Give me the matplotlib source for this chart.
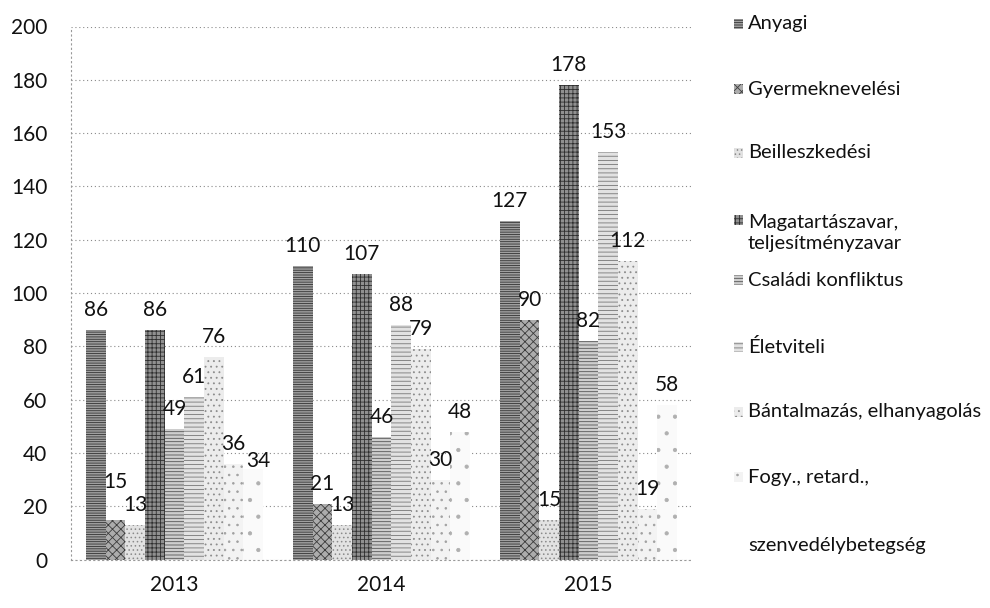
import matplotlib
matplotlib.use("Agg")
import matplotlib.pyplot as plt
from matplotlib.patches import Rectangle
import numpy as np

years = ["2013", "2014", "2015"]
series = ["Anyagi", "Gyermeknevelési", "Beilleszkedési",
          "Magatartászavar,\nteljesítményzavar", "Családi konfliktus",
          "Életviteli", "Bántalmazás, elhanyagolás", "Fogy., retard.,",
          "szenvedélybetegség"]
anyagi = [86, 110, 127]
gyermek = [15, 21, 90]
beill = [13, 13, 15]
magatartas = [86, 107, 178]
csaladi = [49, 46, 82]
eletviteli = [61, 88, 153]
bantalmazas = [76, 79, 112]
fogy = [36, 30, 19]
szenv = [34, 48, 58]
values = [anyagi, gyermek, beill, magatartas, csaladi,
          eletviteli, bantalmazas, fogy, szenv]

# grey hatched look of the scanned original
faces = ["#a0a0a0", "#acacac", "#e2e2e2", "#909090", "#cdcdcd",
         "#e2e2e2", "#ececec", "#f3f3f3", "#fafafa"]
hcols = ["#333333", "#3c3c3c", "#8a8a8a", "#2e2e2e", "#555555",
         "#777777", "#8c8c8c", "#a0a0a0", "#b0b0b0"]
hatches = ["-------", "xxxx", "....", "++++", "-----",
           "----", "...", "..", "."]
leg_y = [24, 89, 153, 233, 280, 347, 412, 477, 545]
# label nudges (pixels) where the original moved labels apart
nudge = {(1, 0): (0, 18), (8, 0): (5, -12)}

plt.rcParams["font.family"] = ["Lato", "DejaVu Sans"]
plt.rcParams["hatch.linewidth"] = 0.6

fig = plt.figure(figsize=(9.9, 6.08), dpi=100)
ax = fig.add_axes([71 / 990, 48.5 / 608, 621 / 990, 533 / 608])

x = np.arange(len(years))
w = 0.095
n = len(series)
for i in range(n):
    pos = x + (i - (n - 1) / 2) * w
    ax.bar(pos, values[i], w, color=faces[i], edgecolor=hcols[i],
           hatch=hatches[i], linewidth=0, zorder=2)
    for j, (px, v) in enumerate(zip(pos, values[i])):
        dx, dy = nudge.get((i, j), (0, 0))
        ax.annotate(str(v), (px, v), xytext=(dx * 0.72, 10 + dy * 0.72),
                    textcoords="offset points", ha="center", va="baseline",
                    fontsize=15, color="#111", zorder=4)

ax.set_xlim(-0.5, 2.5)
ax.set_ylim(0, 200)
ax.set_yticks(range(0, 201, 20))
ax.set_xticks(x)
ax.set_xticklabels(years)
ax.tick_params(length=0, labelsize=15, colors="#111")
ax.tick_params(axis="y", pad=17)
ax.tick_params(axis="x", pad=11)
ax.grid(axis="y", linestyle=(0, (1, 2.5)), color="#8a8a8a", linewidth=0.8, zorder=0)
for s in ["top", "right"]:
    ax.spines[s].set_visible(False)
for s in ["left", "bottom"]:
    ax.spines[s].set_linestyle((0, (1, 3)))
    ax.spines[s].set_color("#999999")
    ax.spines[s].set_linewidth(0.8)

# legend on the right
for i in range(n):
    yc = 1 - leg_y[i] / 608
    mk_y = yc
    if i == 3:
        mk_y = 1 - 220 / 608
    if i < n - 1:
        fig.add_artist(Rectangle((734 / 990, mk_y - 5 / 608), 9 / 990, 10 / 608,
                                 transform=fig.transFigure, facecolor=faces[i],
                                 edgecolor=hcols[i], hatch=hatches[i],
                                 linewidth=0))
    fig.text(748 / 990, yc, series[i], ha="left", va="center", fontsize=14.5,
             color="#111", linespacing=1.3)

fig.savefig("out.png", dpi=100)
